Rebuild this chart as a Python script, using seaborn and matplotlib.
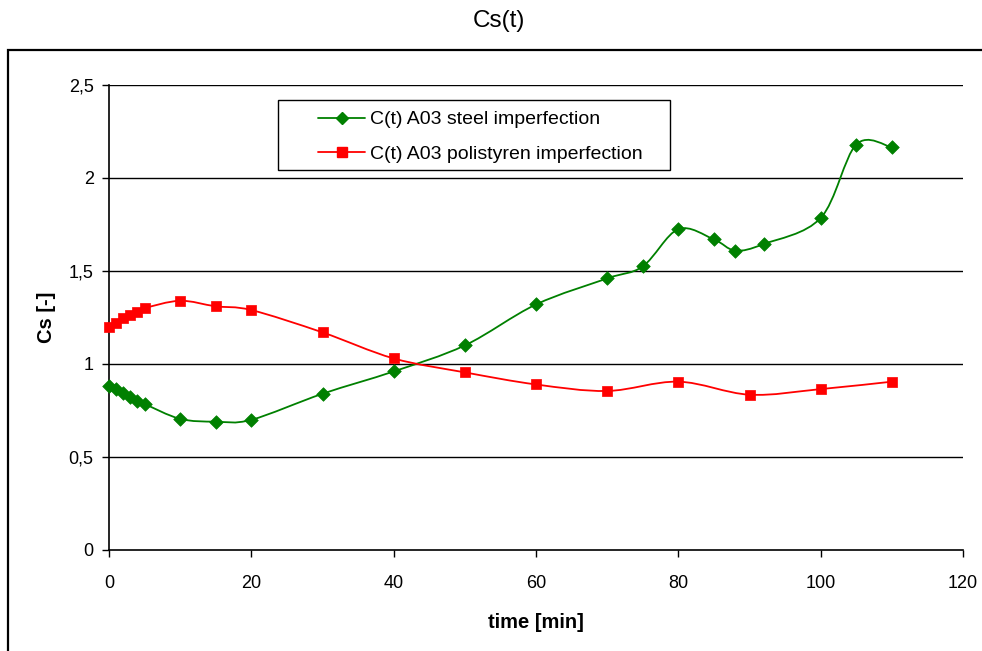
import numpy as np
import pandas as pd
import seaborn as sns
import matplotlib
matplotlib.use("Agg")
import matplotlib.pyplot as plt
from matplotlib.path import Path
from matplotlib.patches import PathPatch, Rectangle
from matplotlib.lines import Line2D

# ---- data ----
steel_t = [0, 1, 2, 3, 4, 5, 10, 15, 20, 30, 40, 50, 60, 70, 75, 80, 85, 88, 92, 100, 105, 110]
steel_c = [0.88, 0.865, 0.845, 0.82, 0.80, 0.785, 0.705, 0.69, 0.70, 0.84, 0.96,
           1.10, 1.32, 1.46, 1.525, 1.725, 1.67, 1.61, 1.645, 1.785, 2.18, 2.165]
poly_t = [0, 1, 2, 3, 4, 5, 10, 15, 20, 30, 40, 50, 60, 70, 80, 90, 100, 110]
poly_c = [1.20, 1.22, 1.25, 1.265, 1.28, 1.30, 1.34, 1.31, 1.29, 1.17, 1.03,
          0.955, 0.89, 0.855, 0.905, 0.835, 0.865, 0.905]
label_steel = "C(t) A03 steel imperfection"
label_poly = "C(t) A03 polistyren imperfection"
x_ticks = [0, 20, 40, 60, 80, 100, 120]
y_ticks = [0, 0.5, 1, 1.5, 2, 2.5]
y_tick_labels = ["0", "0,5", "1", "1,5", "2", "2,5"]

sns.set_theme(style="white")
plt.rcParams['font.family'] = ['Liberation Sans', 'DejaVu Sans']
plt.rcParams['text.color'] = 'black'
plt.rcParams['axes.labelcolor'] = 'black'

W, H = 982, 651
AX_L, AX_R, AX_T, AX_B = 109, 963, 85, 550
fig = plt.figure(figsize=(W/100, H/100), dpi=100)
ax = fig.add_axes([AX_L/W, 1-AX_B/H, (AX_R-AX_L)/W, (AX_B-AX_T)/H])


def ax_frac(px, py):
    return (px-AX_L)/(AX_R-AX_L), (AX_B-py)/(AX_B-AX_T)


GREEN = "#008000"
RED = "#FF0000"


def smooth_path(xs, ys):
    """Excel-like smoothed line: cubic Bezier through the points."""
    p = np.column_stack([xs, ys]).astype(float)
    n = len(p)
    verts = [p[0]]
    codes = [Path.MOVETO]
    for i in range(n - 1):
        p0 = p[i - 1] if i > 0 else p[i]
        p1 = p[i]
        p2 = p[i + 1]
        p3 = p[i + 2] if i + 2 < n else p[i + 1]
        c1 = p1 + (p2 - p0) / 6.0
        c2 = p2 - (p3 - p1) / 6.0
        verts += [c1, c2, p2]
        codes += [Path.CURVE4] * 3
    return Path(verts, codes)


for xs, ys, col in [(steel_t, steel_c, GREEN), (poly_t, poly_c, RED)]:
    ax.add_patch(PathPatch(smooth_path(xs, ys), facecolor="none", edgecolor=col,
                           lw=1.3, zorder=3))

df_s = pd.DataFrame({"t": steel_t, "c": steel_c})
df_p = pd.DataFrame({"t": poly_t, "c": poly_c})
sns.scatterplot(data=df_s, x="t", y="c", ax=ax, marker="D", s=48, color=GREEN,
                edgecolor=GREEN, linewidth=0.5, zorder=4, clip_on=False)
sns.scatterplot(data=df_p, x="t", y="c", ax=ax, marker="s", s=62, color=RED,
                edgecolor=RED, linewidth=0.5, zorder=4, clip_on=False)

ax.set_xlim(0, 120)
ax.set_ylim(0, 2.5)
ax.set_xticks(x_ticks)
ax.set_xticklabels([str(v) for v in x_ticks], fontsize=13)
ax.set_yticks(y_ticks)
ax.set_yticklabels(y_tick_labels, fontsize=13)
ax.tick_params(axis="both", direction="out", length=5, width=1, color="black",
               bottom=True, left=True, pad=6, labelcolor="black")
ax.tick_params(axis="x", pad=13)

ax.grid(False)
for v in y_ticks[1:]:
    ax.axhline(v, color="black", lw=1.0, zorder=1)
for s in ["top", "right"]:
    ax.spines[s].set_visible(False)
for s in ["left", "bottom"]:
    ax.spines[s].set_color("black")
    ax.spines[s].set_linewidth(1.2)
ax.set_facecolor("white")

ax.set_xlabel("time [min]", fontsize=14.5, fontweight="bold", labelpad=15, color="black")
ax.set_ylabel("Cs [-]", fontsize=14.5, fontweight="bold", labelpad=9, color="black")

# legend box
bx0, by0 = ax_frac(278, 170)
bx1, by1 = ax_frac(670, 100)
ax.add_patch(Rectangle((bx0, by0), bx1-bx0, by1-by0, transform=ax.transAxes,
                       facecolor="white", edgecolor="black", lw=1.0, zorder=5))
handles = [Line2D([0], [0], color=GREEN, lw=1.3, marker="D", markersize=6.5),
           Line2D([0], [0], color=RED, lw=1.3, marker="s", markersize=7)]
leg = ax.legend(handles, [label_steel, label_poly], loc="upper left",
                bbox_to_anchor=ax_frac(312, 105), fontsize=14,
                frameon=False, labelspacing=0.85, handlelength=2.45,
                handletextpad=0.25, borderaxespad=0, borderpad=0.3,
                labelcolor="black")
leg.set_zorder(6)

fig.text(499/W, 1-21/H, "Cs(t)", ha="center", va="center", fontsize=17.5, color="black")

top = 1 - 50/H
fig.patches.append(Rectangle((8/W, -0.2), 1.2, top + 0.2,
                             transform=fig.transFigure, fill=False,
                             edgecolor="black", lw=1.6, clip_on=False))

fig.savefig("out.png", dpi=100, facecolor="white")
